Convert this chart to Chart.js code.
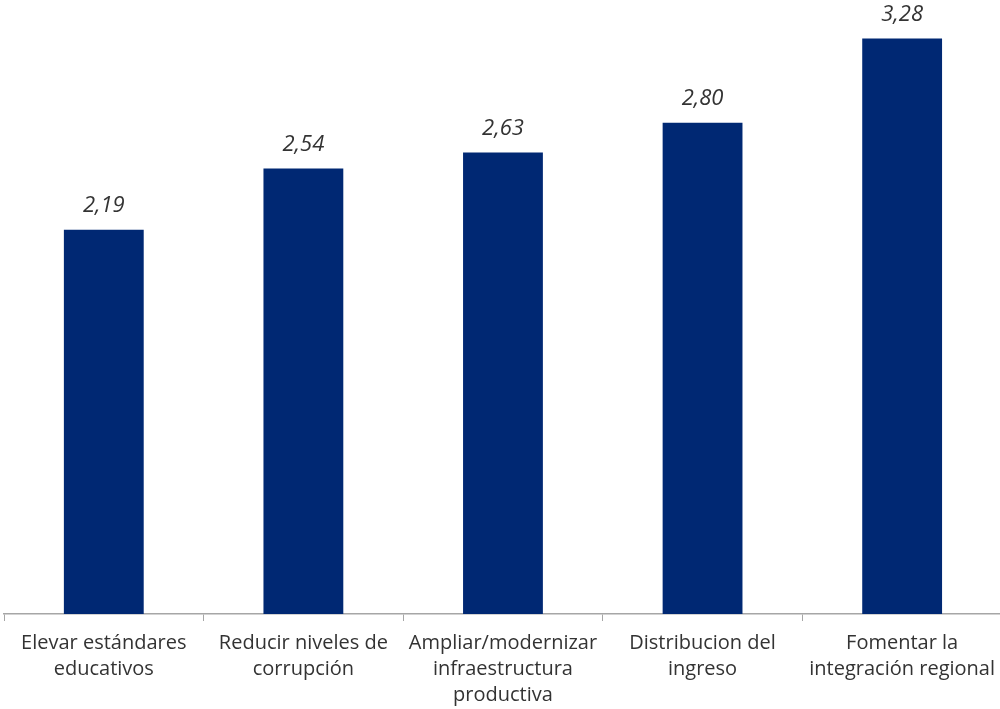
<!DOCTYPE html>
<html>
<head>
<meta charset="utf-8">
<script src="https://cdn.jsdelivr.net/npm/chart.js"></script>
<style>
  html, body { margin: 0; padding: 0; background: #fff; overflow: hidden; }
  #wrap { position: relative; width: 1004px; height: 709px; }
</style>
</head>
<body>
<div id="wrap"><canvas id="barChart"></canvas></div>
<script>
const categories = [
  ["Elevar estándares", "educativos"],
  ["Reducir niveles de", "corrupción"],
  ["Ampliar/modernizar", "infraestructura", "productiva"],
  ["Distribucion del", "ingreso"],
  ["Fomentar la", "integración regional"]
];
const scores = [2.19, 2.54, 2.63, 2.80, 3.28];

// numbers above each bar, comma decimal
const valueLabels = {
  id: "valueLabels",
  afterDatasetsDraw(chart) {
    const { ctx } = chart;
    const meta = chart.getDatasetMeta(0);
    ctx.save();
    ctx.font = "italic 22px 'Open Sans'";
    ctx.fillStyle = "#333333";
    ctx.textAlign = "center";
    ctx.textBaseline = "middle";
    meta.data.forEach((bar, i) => {
      const txt = scores[i].toFixed(2).replace(".", ",");
      ctx.fillText(txt, bar.x, bar.y - 24);
    });
    ctx.restore();
  }
};

new Chart(document.getElementById("barChart").getContext("2d"), {
  type: "bar",
  data: {
    labels: categories,
    datasets: [{
      data: scores,
      backgroundColor: "#002873",
      categoryPercentage: 0.8,
      barPercentage: 0.5
    }]
  },
  options: {
    responsive: true,
    maintainAspectRatio: false,
    animation: false,
    layout: { padding: { left: 4, right: 0, top: 0, bottom: 0 } },
    plugins: {
      legend: { display: false },
      tooltip: { enabled: false }
    },
    scales: {
      y: { display: false, min: 0, max: 3.5 },
      x: {
        afterFit: (scale) => { scale.height = 95; },
        border: { color: "#a6a6a6", width: 1.5 },
        grid: {
          offset: true,
          drawOnChartArea: false,
          drawTicks: true,
          tickLength: 7,
          color: "#a6a6a6",
          lineWidth: 1
        },
        ticks: {
          color: "#333333",
          padding: 9,
          maxRotation: 0,
          autoSkip: false,
          font: { family: "'Open Sans'", size: 20, lineHeight: 1.3 }
        }
      }
    }
  },
  plugins: [valueLabels]
});
</script>
</body>
</html>
